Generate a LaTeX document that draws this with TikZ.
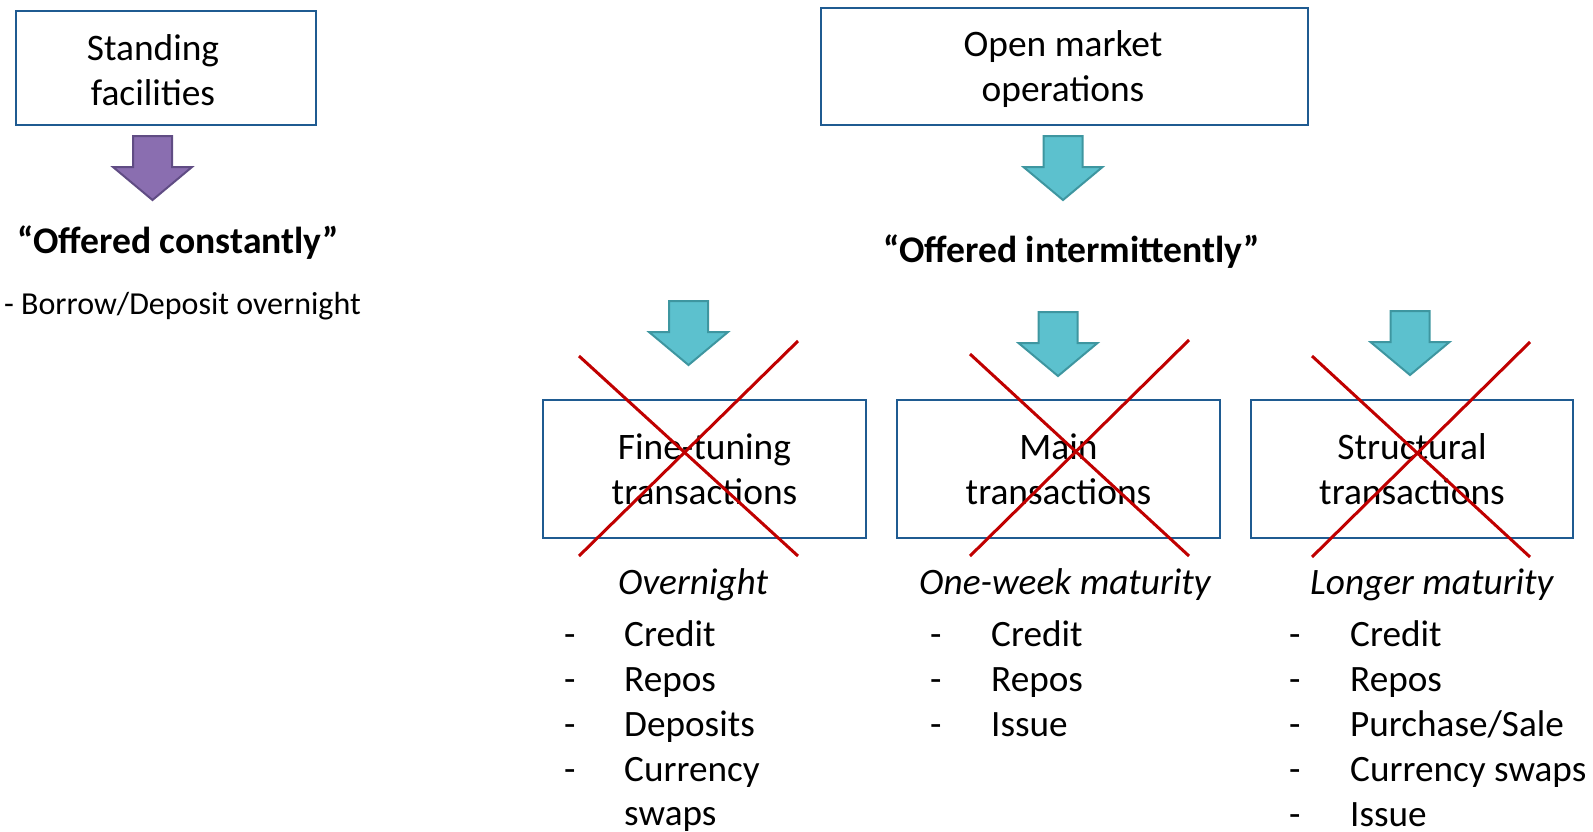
\documentclass[tikz,border=0pt]{standalone}
\usepackage{fontspec}
\setmainfont{Carlito}
\definecolor{boxblue}{RGB}{31,91,145}
\definecolor{aquafill}{RGB}{92,193,206}
\definecolor{aquaedge}{RGB}{62,150,160}
\definecolor{violetfill}{RGB}{138,110,176}
\definecolor{violetedge}{RGB}{96,76,132}
\definecolor{crossred}{RGB}{192,0,0}
\begin{document}
\begin{tikzpicture}[x=1pt,y=-1pt,
  box/.style={draw=boxblue, line width=2.5pt, inner sep=0pt},
  boxtext/.style={align=center, inner sep=0pt, font=\fontsize{37.4}{45}\selectfont},
  plain/.style={inner sep=0pt, anchor=base west, font=\fontsize{37.2}{45}\selectfont},
  heading/.style={inner sep=0pt, anchor=base west, font=\fontsize{37.6}{45}\selectfont\bfseries},
  note/.style={inner sep=0pt, anchor=base west, font=\fontsize{32}{38}\selectfont},
  period/.style={inner sep=0pt, anchor=base west, font=\fontsize{37.3}{45}\selectfont\itshape},
  aquaarrow/.style={draw=aquaedge, fill=aquafill, line width=2pt, line join=miter},
  violetarrow/.style={draw=violetedge, fill=violetfill, line width=2pt, line join=miter},
  cross/.style={draw=crossred, line width=3pt},
  downarrow/.pic={\path[pic actions] (-19.5,0) -- (19.5,0) -- (19.5,31) -- (39.5,31)
    -- (0,64) -- (-39.5,31) -- (-19.5,31) -- cycle;}
]
\useasboundingbox (0,0) rectangle (1593,831);

% ---- standing facilities ----
\node[box, minimum width=300pt, minimum height=114pt] (sf) at (166,68) {};
\node[boxtext] (sftext) at (153,70) {Standing\\facilities};
\pic[violetarrow] at (152.5,136) {downarrow};
\node[heading] (constant) at (17,253) {“Offered constantly”};
\node[note] (overnight) at (4,314) {- Borrow/Deposit overnight};

% ---- open market operations ----
\node[box, minimum width=487pt, minimum height=117pt] (omo) at (1064.5,66.5) {};
\node[boxtext] (omotext) at (1063,69) {Open market\\operations};
\pic[aquaarrow] at (1063,136) {downarrow};
\node[heading] (intermit) at (883,262) {“Offered intermittently”};

% ---- three kinds of transactions ----
\pic[aquaarrow] at (688.5,301) {downarrow};
\pic[aquaarrow] at (1058,312) {downarrow};
\pic[aquaarrow] at (1410,311) {downarrow};

\node[box, minimum width=323pt, minimum height=138pt] (fine) at (704.5,469) {};
\node[boxtext] (finetext) at (704.5,469) {Fine-tuning\\transactions};
\node[box, minimum width=323pt, minimum height=138pt] (main) at (1058.5,469) {};
\node[boxtext] (maintext) at (1058.5,469) {Main\\transactions};
\node[box, minimum width=322pt, minimum height=138pt] (struct) at (1412,469) {};
\node[boxtext] (structtext) at (1412,469) {Structural\\transactions};

% struck out
\draw[cross] (579,356) -- (798,556);
\draw[cross] (798,341) -- (579,556);
\draw[cross] (970,354) -- (1189,556);
\draw[cross] (1189,340) -- (970,556);
\draw[cross] (1312,356) -- (1530,557);
\draw[cross] (1530,342) -- (1312,557);

% ---- maturities and instruments ----
\node[period] (p1) at (618,594) {Overnight};
\node[period] (p2) at (919,594) {One-week maturity};
\node[period] (p3) at (1310,594) {Longer maturity};

\foreach \txt [count=\i] in {Credit,Repos,Deposits,Currency}{
  \node[plain] (d1-\i) at (564,{601+45*\i}) {-};
  \node[plain] (a\i) at (624,{601+45*\i}) {\txt};
}
\node[plain] (a5) at (624,825) {swaps};

\foreach \txt [count=\i] in {Credit,Repos,Issue}{
  \node[plain] (d2-\i) at (930,{601+45*\i}) {-};
  \node[plain] (b\i) at (991,{601+45*\i}) {\txt};
}

\foreach \txt [count=\i] in {Credit,Repos,Purchase/Sale,Currency swaps,Issue}{
  \node[plain] (d3-\i) at (1289,{601+45*\i}) {-};
  \node[plain] (c\i) at (1350,{601+45*\i}) {\txt};
}
\end{tikzpicture}
\end{document}
